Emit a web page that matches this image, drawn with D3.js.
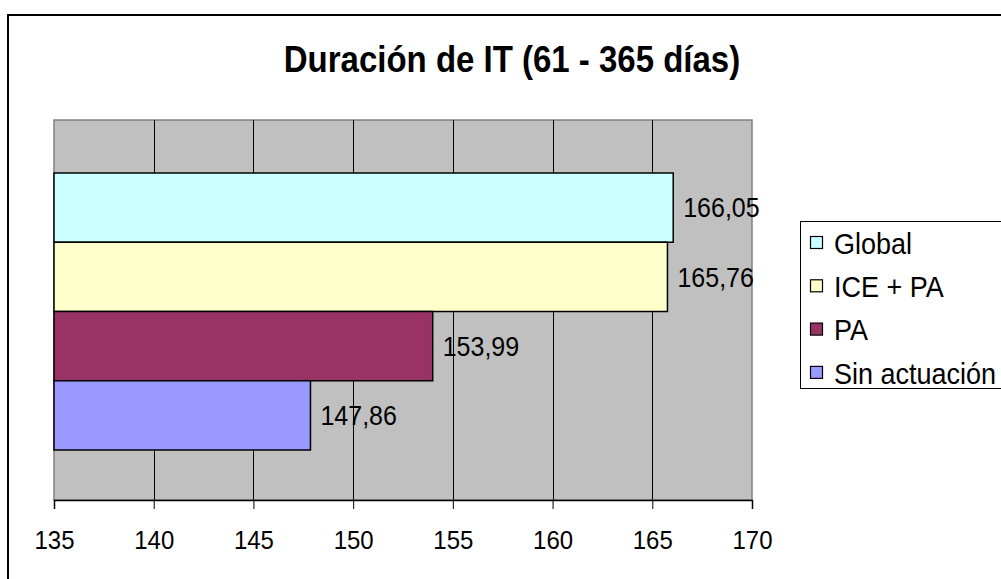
<!DOCTYPE html>
<html>
<head>
<meta charset="utf-8">
<script src="https://cdn.jsdelivr.net/npm/d3@7"></script>
<style>
  html, body { margin: 0; padding: 0; background: #fff; }
  svg { display: block; font-family: "Liberation Sans", Arial, sans-serif; }
</style>
</head>
<body>
<div id="chart"></div>
<script>
const series = ["Global", "ICE + PA", "PA", "Sin actuación"];
const values = [166.05, 165.76, 153.99, 147.86];
const colors = ["#CCFFFF", "#FFFFCC", "#993366", "#9999FF"];
const xTicks = [135, 140, 145, 150, 155, 160, 165, 170];

const width = 1001, height = 579;
const plot = { left: 54, right: 752, top: 120, bottom: 500 };
const stretch = 1.1; // glyphs in the original are a bit taller than wide

const svg = d3.select("#chart")
  .append("svg")
  .attr("width", width)
  .attr("height", height);

// outer chart border (clipped on right/bottom as in the original)
svg.append("rect")
  .attr("x", 8).attr("y", 15)
  .attr("width", 1010).attr("height", 600)
  .attr("fill", "#fff")
  .attr("stroke", "#000")
  .attr("stroke-width", 2);

const x = d3.scaleLinear()
  .domain([135, 170])
  .range([plot.left, plot.right]);

const y = d3.scaleBand()
  .domain(series)
  .range([plot.top + 53, plot.bottom - 50])
  .paddingInner(0);

/* plot area */
svg.append("rect")
  .attr("x", plot.left).attr("y", plot.top)
  .attr("width", plot.right - plot.left)
  .attr("height", plot.bottom - plot.top)
  .attr("fill", "#C0C0C0")
  .attr("stroke", "#808080")
  .attr("stroke-width", 1.5);

/* vertical gridlines */
svg.append("g")
  .selectAll("line")
  .data(xTicks.slice(1, -1))
  .join("line")
  .attr("x1", (d) => Math.round(x(d)) + 0.5)
  .attr("x2", (d) => Math.round(x(d)) + 0.5)
  .attr("y1", plot.top)
  .attr("y2", plot.bottom)
  .attr("stroke", "#000")
  .attr("stroke-width", 1);

/* bars */
svg.append("g")
  .selectAll("rect")
  .data(series)
  .join("rect")
  .attr("x", x(135))
  .attr("y", (d) => y(d))
  .attr("width", (d, i) => x(values[i]) - x(135))
  .attr("height", y.bandwidth())
  .attr("fill", (d, i) => colors[i])
  .attr("stroke", "#000")
  .attr("stroke-width", 1.5);

/* data labels */
const labelSize = 25;
svg.append("g")
  .selectAll("text")
  .data(series)
  .join("text")
  .attr("transform", (d, i) =>
    `translate(${x(values[i]) + 10}, ${y(d) + y.bandwidth() / 2 + 0.358 * stretch * labelSize}) scale(1, ${stretch})`)
  .style("font-size", labelSize + "px")
  .attr("fill", "#000")
  .text((d, i) => values[i].toFixed(2).replace(".", ","));

/* x axis */
const axis = svg.append("g")
  .attr("transform", `translate(0, ${plot.bottom})`)
  .call(d3.axisBottom(x).tickValues(xTicks).tickSize(9))
  .call((g) => g.select(".domain").attr("stroke", "#000").attr("stroke-width", 1.5));
axis.selectAll(".tick line").attr("stroke", "#000");
axis.selectAll(".tick text")
  .attr("y", 0)
  .attr("dy", null)
  .attr("transform", `translate(0, 49) scale(1, ${stretch})`)
  .style("font-size", "24px")
  .style("font-family", "'Liberation Sans', Arial, sans-serif")
  .attr("fill", "#000");

/* title */
svg.append("text")
  .attr("transform", `translate(512, 72) scale(1, ${stretch})`)
  .attr("text-anchor", "middle")
  .style("font-size", "33px")
  .style("font-weight", "bold")
  .text("Duración de IT (61 - 365 días)");

/* legend */
const legendSize = 27;
const legend = svg.append("g");
legend.append("rect")
  .attr("x", 800.5).attr("y", 221.5)
  .attr("width", 220).attr("height", 167)
  .attr("fill", "#fff")
  .attr("stroke", "#000")
  .attr("stroke-width", 1);
const item = legend.selectAll("g.item")
  .data(series)
  .join("g")
  .attr("class", "item")
  .attr("transform", (d, i) => `translate(810, ${243 + i * 43.3})`);
item.append("rect")
  .attr("x", 0.5).attr("y", -6.5)
  .attr("width", 12).attr("height", 12)
  .attr("fill", (d, i) => colors[i])
  .attr("stroke", "#000")
  .attr("stroke-width", 1.2);
item.append("text")
  .attr("transform", `translate(24, ${0.358 * stretch * legendSize}) scale(1, ${stretch})`)
  .style("font-size", legendSize + "px")
  .text((d) => d);
</script>
</body>
</html>
